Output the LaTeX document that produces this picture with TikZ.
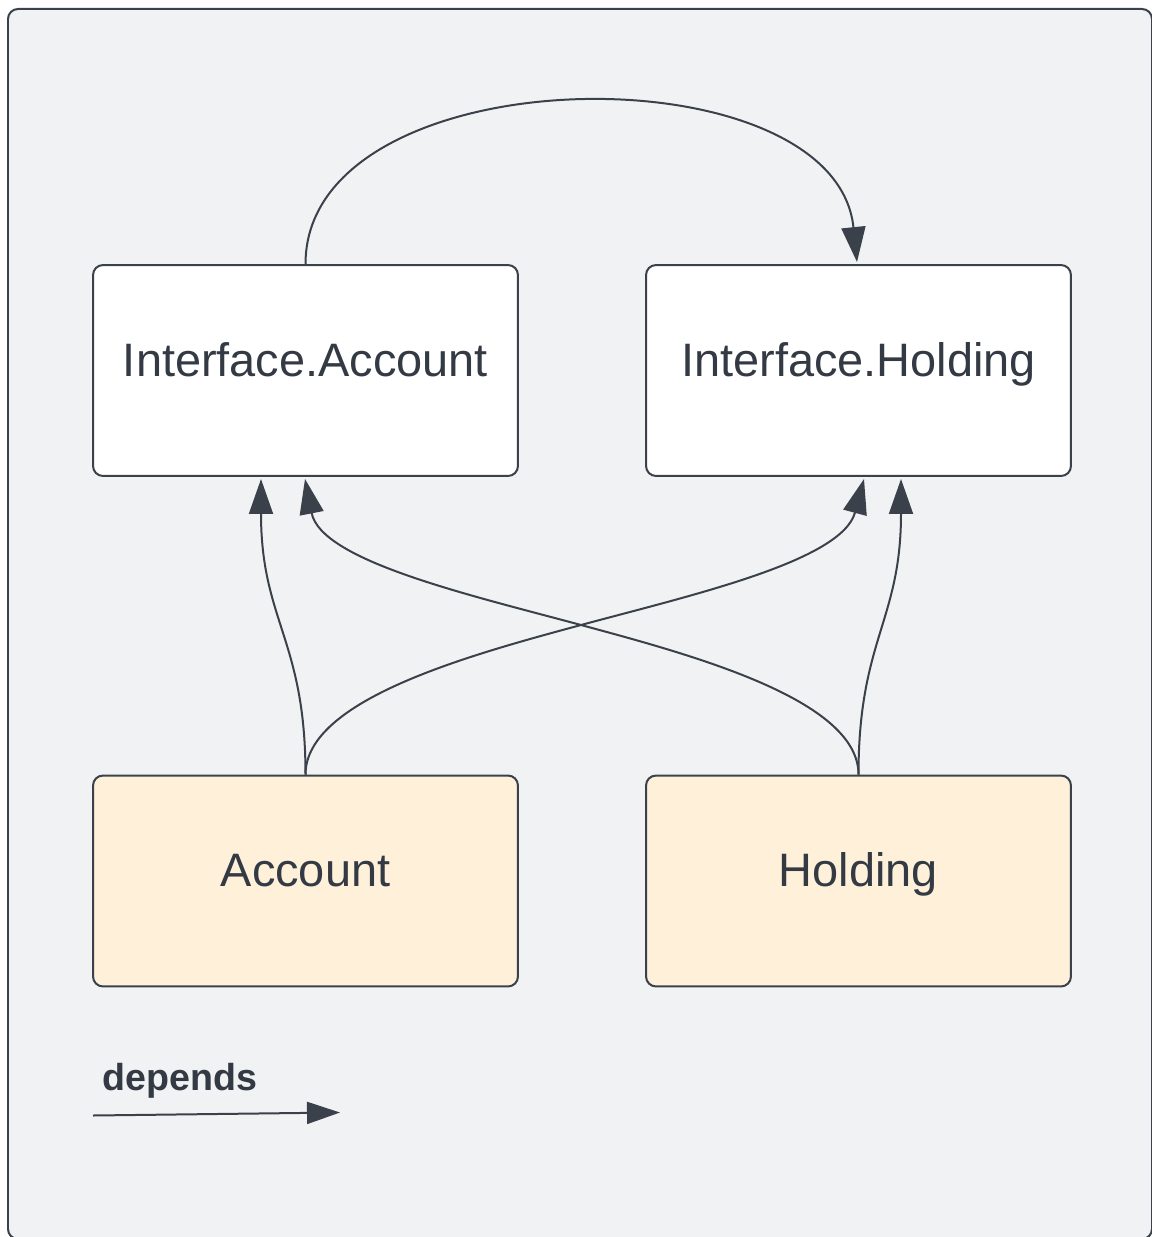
\documentclass[tikz,border=0pt]{standalone}
\usepackage{fontspec}
\setmainfont{Liberation Sans}
\usetikzlibrary{arrows.meta,calc}
\definecolor{bgc}{HTML}{F1F2F4}
\definecolor{linec}{HTML}{3A414B}
\definecolor{txtc}{HTML}{333A44}
\definecolor{cream}{HTML}{FFF1D9}
\begin{document}
\begin{tikzpicture}[x=0.02cm,y=-0.02cm,
  box/.style={draw=linec, line width=0.04cm, rounded corners=0.2cm,
    minimum width=8.5cm, minimum height=4.22cm, inner sep=0pt,
    text=txtc, font=\fontsize{26.7}{32}\selectfont,
    text height=0.87em, text depth=0.2em},
  ifbox/.style={box, fill=white},
  implbox/.style={box, fill=cream},
  conn/.style={draw=linec, line width=0.04cm,
    -{Triangle[length=0.7cm,width=0.48cm]}},
  legendarrow/.style={draw=linec, line width=0.04cm,
    -{Triangle[length=0.66cm,width=0.44cm]}},
  legendtext/.style={anchor=base west, inner sep=0pt, text=txtc,
    font=\bfseries\fontsize{21.4}{25}\selectfont}
]
\useasboundingbox (0,0) rectangle (1152,1237);
% frame
\draw[draw=linec, fill=bgc, line width=0.04cm, rounded corners=0.2cm]
  (8,9) rectangle (1152,1239);

% boxes
\node[ifbox] (IA) at (305.5,370.5) {Interface.Account};
\node[ifbox] (IH) at (858.5,370.5) {Interface.Holding};
\node[implbox] (A) at (305.5,881) {Account};
\node[implbox] (H) at (858.5,881) {Holding};

% crossing point
\coordinate (X) at (581,625);

% top arc
\draw[conn] (IA.north) .. controls +(0,-210) and +(-22,-215) .. ($(IH.north)+(-1.5,-2)$);

% Account -> Interface.Account
\draw[conn] (A.north) .. controls +(0,-135) and +(0,142) .. ($(IA.south)+(-44.5,2)$);
% Account -> Interface.Holding
\draw[conn] (A.north) .. controls +(0,-75) and +(-111,30) .. (X)
  .. controls +(111,-30) and +(-22,82) .. ($(IH.south)+(5.5,2)$);
% Holding -> Interface.Account
\draw[conn] (H.north) .. controls +(0,-75) and +(111,30) .. (X)
  .. controls +(-111,-30) and +(16,82) .. ($(IA.south)+(-0.5,2)$);
% Holding -> Interface.Holding
\draw[conn] (H.north) .. controls +(0,-135) and +(0,142) .. ($(IH.south)+(42.5,2)$);

% legend
\node[legendtext] (dep) at (102,1090) {depends};
\coordinate (L1) at (93,1115.5);
\coordinate (L2) at (340,1112.5);
\draw[legendarrow] (L1) -- (L2);
\end{tikzpicture}
\end{document}
